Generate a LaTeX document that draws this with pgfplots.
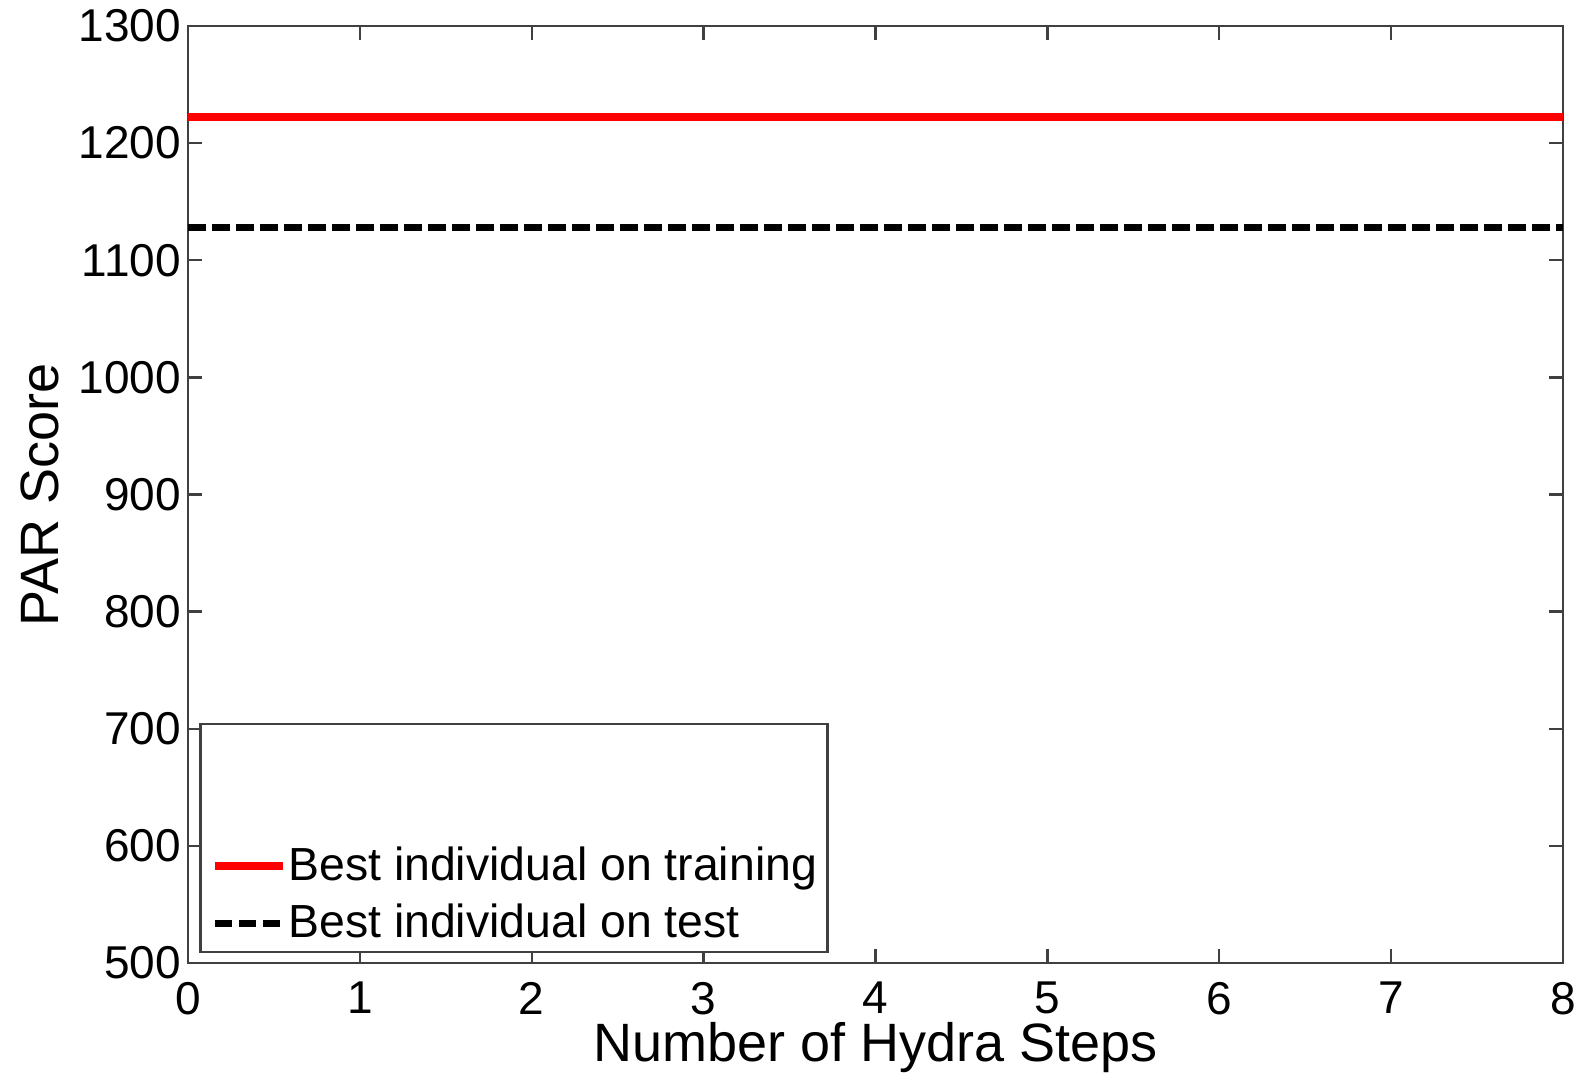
\documentclass[border=0pt]{standalone}
\usepackage{fontspec}
\setmainfont{Liberation Sans}
\usepackage{pgfplots}
\pgfplotsset{compat=1.18}
\begin{document}
\begin{tikzpicture}
\begin{axis}[
  at={(0pt,0pt)}, anchor=south west,
  scale only axis, width=343.75pt, height=234.25pt,
  xmin=0, xmax=8, ymin=500, ymax=1300,
  xtick={0,1,2,3,4,5,6,7,8},
  ytick={500,600,700,800,900,1000,1100,1200,1300},
  xtick pos=both, ytick pos=both,
  tick align=inside,
  major tick length=3.5pt,
  axis line style={black!75, line width=0.6pt},
  every tick/.style={black!75, line width=0.6pt},
  /pgf/number format/assume math mode=true,
  /pgf/number format/1000 sep={},
  tick label style={font=\fontsize{11.5}{13}\selectfont, inner sep=0pt},
  xticklabel style={anchor=north, yshift=-4.6pt},
  yticklabel style={anchor=east, xshift=-1.6pt},
  xlabel={Number of Hydra Steps},
  ylabel={PAR Score},
  label style={font=\fontsize{13.5}{15}\selectfont},
  xlabel style={at={(axis description cs:0.5,0)}, anchor=center, yshift=-21.2pt},
  every axis y label/.append style={at={(axis description cs:-0.108,0.5)}, anchor=center},
  legend cell align=left,
  legend style={
    at={(0.0082,0.0107)}, anchor=south west,
    draw=black!75, line width=0.6pt, fill=white,
    inner xsep=2.6pt, inner ysep=0pt,
    row sep=0pt, column sep=0.3pt,
    font=\fontsize{11.6}{13}\selectfont,
    nodes={inner sep=0pt, text height=10.65pt, text depth=3.6pt},
  },
]
\addlegendimage{empty legend}\addlegendentry{}
\addlegendimage{empty legend}\addlegendentry{}
\addplot[red, line width=2pt] coordinates {(0,1222) (8,1222)};
\addlegendentry{Best individual on training}
\addplot[black, line width=1.75pt, dash pattern=on 4.4pt off 1.6pt] coordinates {(0,1128) (8,1128)};
\addlegendentry{Best individual on test}
\end{axis}
\path[use as bounding box] (-47pt,-27.75pt) rectangle (348.75pt,240.75pt);
\end{tikzpicture}
\end{document}
